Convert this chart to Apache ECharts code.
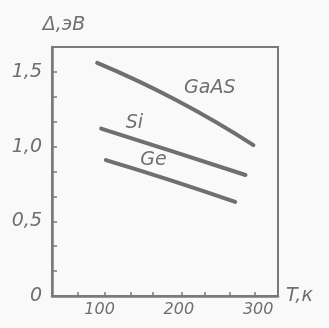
<!DOCTYPE html>
<html>
<head>
<meta charset="utf-8">
<script src="https://cdn.jsdelivr.net/npm/echarts@6/dist/echarts.min.js"></script>
<style>
html,body{margin:0;padding:0;background:#f9f9f9;}
#c{width:329px;height:328px;}
</style>
</head>
<body>
<div id="c"></div>
<script>
// Data (T in K, Δ in eV)
const gaasT = [97, 197, 294];
const gaasE = [1.56, 1.31, 1.01];
const siT = [102, 193, 284];
const siE = [1.12, 0.966, 0.81];
const geT = [108, 189, 271];
const geE = [0.91, 0.776, 0.63];

const seriesNames = ['GaAS', 'Si', 'Ge'];
const labelT = [239, 144, 168];
const labelE = [1.39, 1.16, 0.91];

const xTickValues = [73, 107, 139, 167, 203, 233, 264, 296];
const xLabelValues = [100, 200, 300];
const yTickValues = [1/6, 2/6, 3/6, 4/6, 5/6, 1, 7/6, 8/6, 9/6, 10/6];
const yLabelValues = [0, 0.5, 1.0, 1.5];
const yLabelText = {'0': '0', '0.5': '0,5', '1': '1,0', '1.5': '1,5'};

const ink = '#6f6f6f';
const font = 'DejaVu Sans';

function pairs(xs, ys){ return xs.map((x,i)=>[x, ys[i]]); }

const chart = echarts.init(document.getElementById('c'));
const seriesX = [gaasT, siT, geT];
const seriesY = [gaasE, siE, geE];

chart.setOption({
  backgroundColor: '#f9f9f9',
  animation: false,
  grid: {left: 52, top: 47, right: 51, bottom: 32, show: true, borderColor: '#7a7a7a', borderWidth: 2, backgroundColor: 'transparent'},
  xAxis: {
    type: 'value', min: 40, max: 325,
    axisLine: {show: true, lineStyle: {color: '#7a7a7a', width: 2.5}},
    axisTick: {show: true, inside: true, length: 4, customValues: xTickValues, lineStyle: {color: '#7a7a7a', width: 1.5}},
    axisLabel: {customValues: xLabelValues, color: ink, fontSize: 16, fontStyle: 'italic', fontFamily: font, margin: 6},
    splitLine: {show: false},
    name: 'T,к', nameLocation: 'end', nameGap: 8,
    nameTextStyle: {color: ink, fontSize: 19, fontStyle: 'italic', fontFamily: font, verticalAlign: 'middle', padding: [6,0,0,0]}
  },
  yAxis: {
    type: 'value', min: 0, max: 5/3,
    axisLine: {show: true, lineStyle: {color: '#7a7a7a', width: 2.5}},
    axisTick: {show: true, inside: true, length: 5, customValues: yTickValues, lineStyle: {color: '#7a7a7a', width: 1.5}},
    axisLabel: {customValues: yLabelValues, color: ink, fontSize: 19, fontStyle: 'italic', fontFamily: font, margin: 10,
      formatter: v => yLabelText[String(Math.round(v*10)/10)] ?? ''},
    splitLine: {show: false},
    name: 'Δ,эВ', nameLocation: 'end', nameGap: 12,
    nameTextStyle: {color: ink, fontSize: 19, fontStyle: 'italic', fontFamily: font, align: 'center', padding: [0,0,0,24]}
  },
  series: seriesNames.map((n, i) => ({
    name: n, type: 'line', smooth: true, symbol: 'none',
    data: pairs(seriesX[i], seriesY[i]),
    lineStyle: {color: ink, width: 4, cap: 'round'},
    markPoint: {
      symbol: 'circle', symbolSize: 0,
      data: [{coord: [labelT[i], labelE[i]], value: n}],
      label: {show: true, position: 'inside', formatter: n, color: ink, fontSize: 19, fontStyle: 'italic', fontFamily: font}
    }
  }))
});
</script>
</body>
</html>
